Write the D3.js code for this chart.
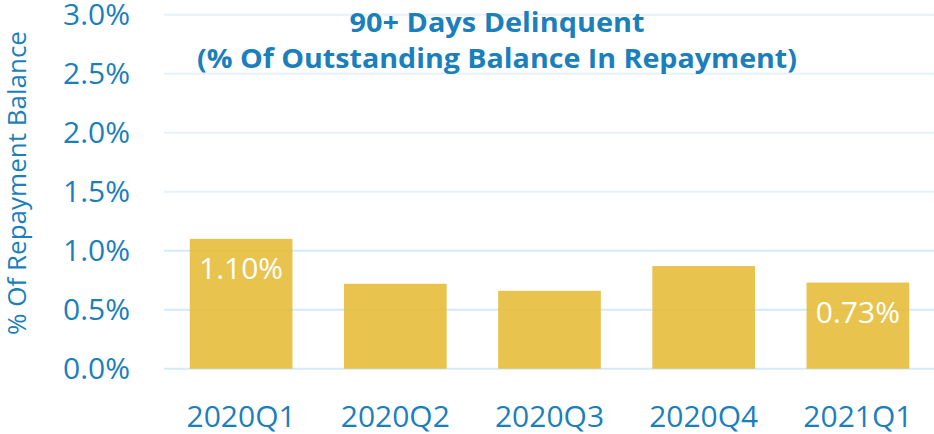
<!DOCTYPE html>
<html>
<head>
<meta charset="utf-8">
<script src="https://cdn.jsdelivr.net/npm/d3@7"></script>
<style>
  body { margin: 0; background: #fff; }
  svg { display: block; font-family: "Open Sans", "Noto Sans", sans-serif; }
</style>
</head>
<body>
<div id="chart"></div>
<script>
// data
const quarters = ["2020Q1", "2020Q2", "2020Q3", "2020Q4", "2021Q1"]
const delinquent = [1.10, 0.72, 0.66, 0.87, 0.73]
const labelled = ["2020Q1", "2021Q1"]   // only these bars carry a value label
const yTicks = [0, 0.5, 1.0, 1.5, 2.0, 2.5, 3.0]
const titleLines = ["90+ Days Delinquent", "(% Of Outstanding Balance In Repayment)"]
const yTitle = "% Of Repayment  Balance"

const width = 934, height = 434
const blue = "#1b7fbc"

const svg = d3.select("#chart").append("svg")
    .attr("width", width)
    .attr("height", height)

const x = d3.scaleBand()
    .domain(quarters)
    .range([164, 935])
    .paddingInner(0.334)
    .paddingOuter(0.167)

const y = d3.scaleLinear()
    .domain([0, 3])
    .range([368.7, 14.7])

// gridlines
svg.append("g")
    .selectAll("line")
    .data(yTicks)
    .enter().append("line")
    .attr("x1", 164)
    .attr("x2", 934)
    .attr("y1", d => y(d))
    .attr("y2", d => y(d))
    .attr("stroke", d => d < 1.5 ? "#d3ebf9" : "#e6f2fb")
    .attr("stroke-width", 2)

// y tick labels
svg.append("g")
    .selectAll("text")
    .data(yTicks)
    .enter().append("text")
    .attr("x", 130)
    .attr("y", d => y(d))
    .attr("dy", "0.35em")
    .attr("text-anchor", "end")
    .attr("fill", blue)
    .style("font-size", "30px")
    .text(d => d.toFixed(1) + "%")

// bars
const data = quarters.map((q, i) => ({q: q, v: delinquent[i]}))

svg.append("g")
    .selectAll("rect")
    .data(data)
    .enter().append("rect")
    .attr("x", d => x(d.q))
    .attr("y", d => y(d.v))
    .attr("width", x.bandwidth())
    .attr("height", d => y(0) - y(d.v))
    .attr("fill", "#e5bd3a")
    .attr("fill-opacity", 0.9)

// value labels inside bars
svg.append("g")
    .selectAll("text")
    .data(data.filter(d => labelled.includes(d.q)))
    .enter().append("text")
    .attr("x", d => x(d.q) + x.bandwidth() / 2)
    .attr("y", d => y(d.v) + 40)
    .attr("text-anchor", "middle")
    .attr("fill", "#fff")
    .style("font-size", "30px")
    .text(d => d.v.toFixed(2) + "%")

// x labels
svg.append("g")
    .selectAll("text")
    .data(quarters)
    .enter().append("text")
    .attr("x", d => x(d) + x.bandwidth() / 2)
    .attr("y", 427)
    .attr("text-anchor", "middle")
    .attr("fill", blue)
    .style("font-size", "30px")
    .text(d => d)

// y axis title
svg.append("text")
    .attr("transform", "translate(26,183) rotate(-90)")
    .attr("text-anchor", "middle")
    .attr("fill", blue)
    .style("font-size", "26px")
    .text(yTitle)

// title
const titleWidths = [295, 600]
svg.append("g")
    .selectAll("text")
    .data(titleLines)
    .enter().append("text")
    .attr("x", 497)
    .attr("y", (d, i) => 32 + i * 36)
    .attr("text-anchor", "middle")
    .attr("fill", blue)
    .attr("textLength", (d, i) => titleWidths[i])
    .attr("lengthAdjust", "spacingAndGlyphs")
    .style("font-size", "26px")
    .style("font-weight", "bold")
    .text(d => d)
</script>
</body>
</html>
